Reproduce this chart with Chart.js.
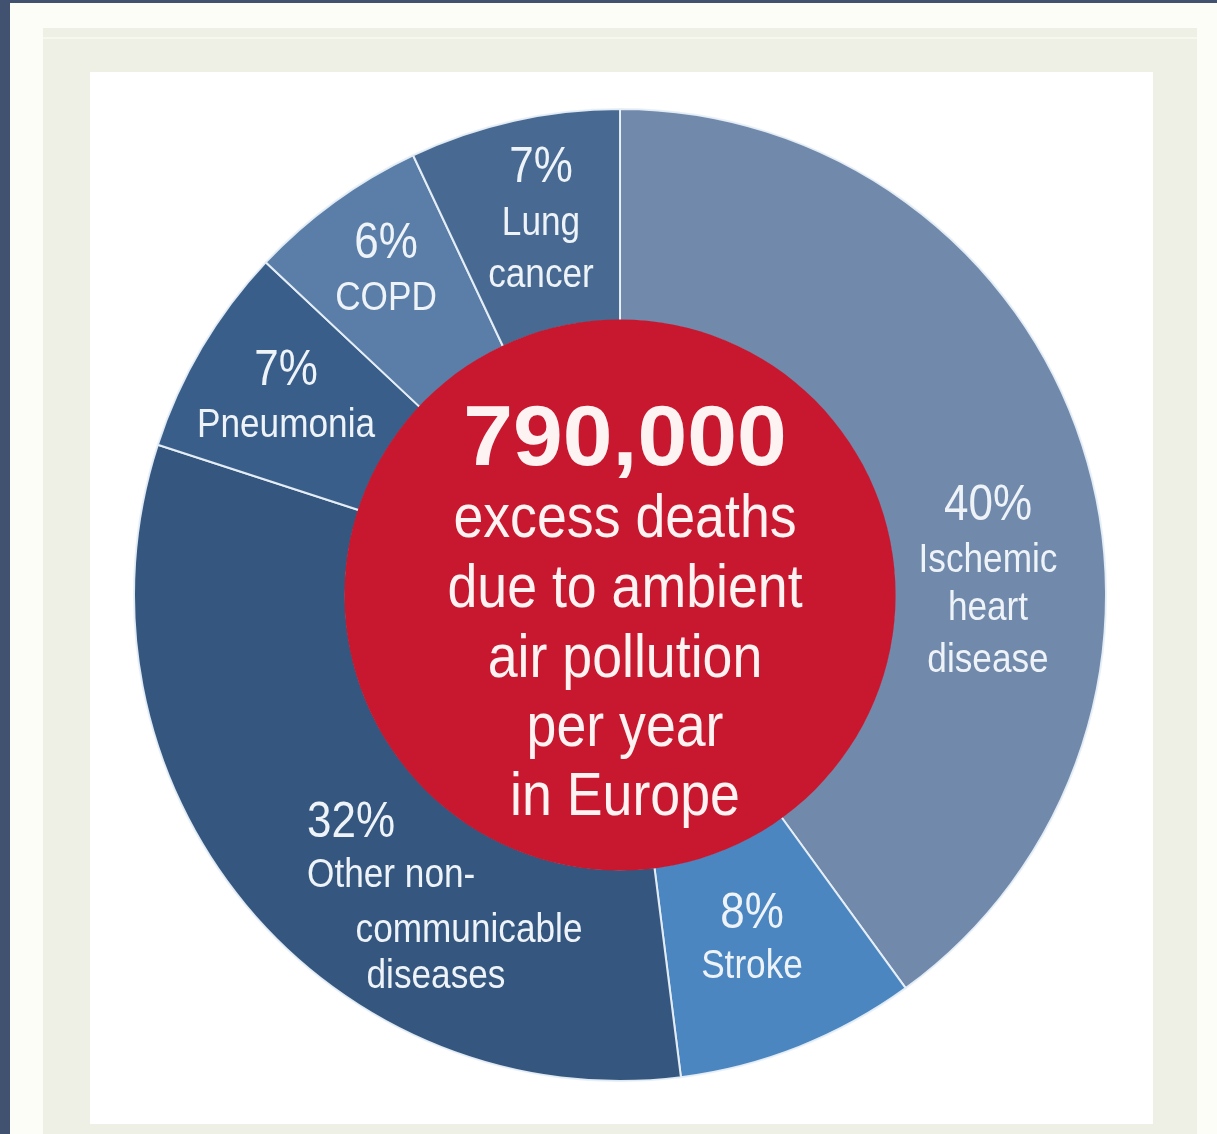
<!DOCTYPE html>
<html>
<head>
<meta charset="utf-8">
<script src="https://cdn.jsdelivr.net/npm/chart.js@4.4.1/dist/chart.umd.min.js"></script>
<style>
  html, body { margin: 0; padding: 0; }
  body { width: 1217px; height: 1134px; background: #405270; position: relative; overflow: hidden; font-family: "Liberation Sans", Arial, sans-serif; }
  #paper { position: absolute; left: 10px; top: 3px; right: 0; bottom: 0; background: #fdfdf7; }
  #frame { position: absolute; left: 43px; top: 28px; width: 1154px; height: 1106px; background: #eff0e5; }
  #frameLine { position: absolute; left: 43px; top: 37px; width: 1154px; height: 2px; background: #f6f7ee; }
  #panel { position: absolute; left: 90px; top: 72px; width: 1063px; height: 1052px; background: #ffffff; }
  #wrap { position: absolute; left: 133px; top: 108px; width: 974px; height: 974px; }
</style>
</head>
<body>
<div id="paper"></div>
<div id="frame"></div>
<div id="frameLine"></div>
<div id="panel"></div>
<div id="wrap"><canvas id="c" width="974" height="974"></canvas></div>
<script>
// ---- data ----
const categories = ["Ischemic heart disease", "Stroke", "Other non-communicable diseases", "Pneumonia", "COPD", "Lung cancer"];
const shares = [40, 8, 32, 7, 6, 7];
const percentLabels = ["40%", "8%", "32%", "7%", "6%", "7%"];
const nameLines = [
  ["Ischemic", "heart", "disease"],
  ["Stroke"],
  ["Other non-", "communicable", "diseases"],
  ["Pneumonia"],
  ["COPD"],
  ["Lung", "cancer"]
];
const totalDeaths = "790,000";
const centerLines = ["excess deaths", "due to ambient", "air pollution", "per year", "in Europe"];

// ---- styling / layout (not data) ----
const sliceColors = ["#7189ab", "#4b86c0", "#35577f", "#3a5e8a", "#5a7ea7", "#486a92"];
const labelLayout = [
  { dx: [368, 368, 368, 368], dy: [-75, -23, 25, 77], align: ["center", "center", "center", "center"] },
  { dx: [132, 132], dy: [333, 383], align: ["center", "center"] },
  { dx: [-313, -313, -151, -184], dy: [242, 292, 347, 393], align: ["left", "left", "center", "center"] },
  { dx: [-334, -334], dy: [-210, -158], align: ["center", "center"] },
  { dx: [-234, -234], dy: [-337, -285], align: ["center", "center"] },
  { dx: [-79, -79, -79], dy: [-413, -360, -308], align: ["center", "center", "center"] }
];
const centerLayout = { dx: 5, bigDy: -130, lineDy: [-58, 12, 82, 151, 220] };

function drawScaled(ctx, text, x, y, sx, align) {
  ctx.save();
  ctx.translate(x, y);
  ctx.scale(sx, 1);
  ctx.textAlign = align;
  ctx.fillText(text, 0, 0);
  ctx.restore();
}

const labelsPlugin = {
  id: "labelsPlugin",
  afterDatasetsDraw(chart) {
    const ctx = chart.ctx;
    const meta = chart.getDatasetMeta(0);
    const arc = meta.data[0];
    const cx = arc.x, cy = arc.y;
    const k = arc.outerRadius / 486;
    // red centre disc
    ctx.save();
    ctx.beginPath();
    ctx.arc(cx, cy, arc.innerRadius + 1.5, 0, Math.PI * 2);
    ctx.fillStyle = "#c8182f";
    ctx.fill();
    ctx.restore();

    ctx.save();
    ctx.textBaseline = "alphabetic";
    // slice labels
    ctx.fillStyle = "#eef3f8";
    shares.forEach((v, i) => {
      const lay = labelLayout[i];
      const lines = [percentLabels[i]].concat(nameLines[i]);
      lines.forEach((t, j) => {
        if (j === 0) {
          ctx.font = "50px 'Liberation Sans', Arial, sans-serif";
          drawScaled(ctx, t, cx + lay.dx[j] * k, cy + lay.dy[j] * k, 0.88, lay.align[j]);
        } else {
          ctx.font = "40px 'Liberation Sans', Arial, sans-serif";
          drawScaled(ctx, t, cx + lay.dx[j] * k, cy + lay.dy[j] * k, 0.88, lay.align[j]);
        }
      });
    });
    // centre text
    ctx.fillStyle = "#fdf3f3";
    ctx.font = "bold 86px 'Liberation Sans', Arial, sans-serif";
    drawScaled(ctx, totalDeaths, cx + centerLayout.dx * k, cy + centerLayout.bigDy * k, 1.04, "center");
    ctx.font = "61px 'Liberation Sans', Arial, sans-serif";
    centerLines.forEach((t, j) => {
      drawScaled(ctx, t, cx + centerLayout.dx * k, cy + centerLayout.lineDy[j] * k, 0.88, "center");
    });
    ctx.restore();
  }
};

new Chart(document.getElementById("c"), {
  type: "doughnut",
  data: {
    labels: categories,
    datasets: [{
      data: shares,
      backgroundColor: sliceColors,
      borderColor: "rgba(232,240,248,0.95)",
      borderWidth: 2,
      borderAlign: "center"
    }]
  },
  options: {
    responsive: false,
    devicePixelRatio: 1,
    animation: false,
    cutout: "56.4%",
    rotation: 0,
    layout: { padding: 0 },
    plugins: {
      legend: { display: false },
      tooltip: { enabled: false },
      title: { display: false }
    }
  },
  plugins: [labelsPlugin]
});
</script>
</body>
</html>
